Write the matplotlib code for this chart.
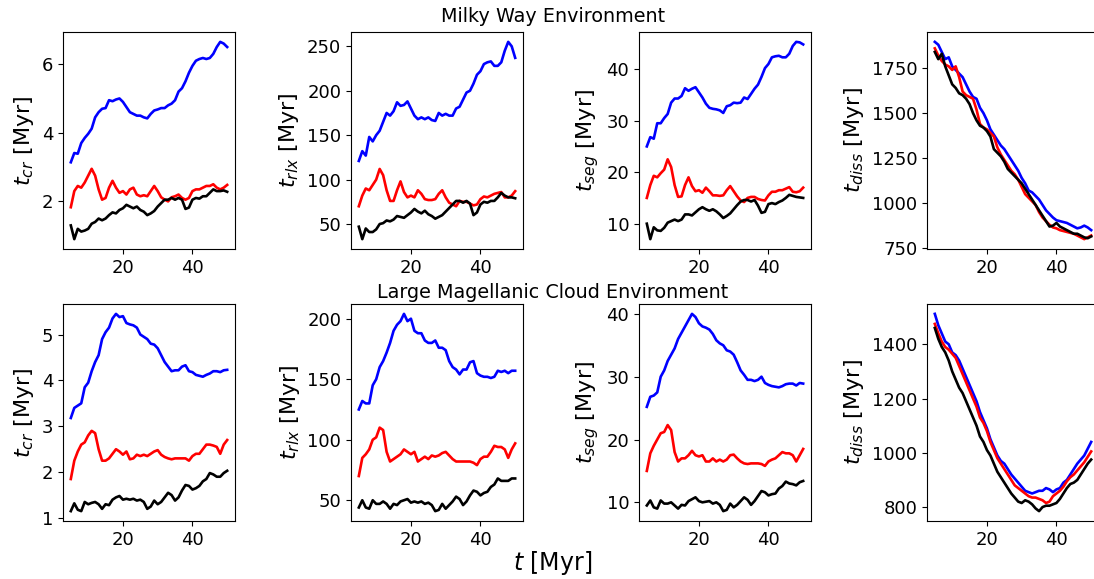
import matplotlib
matplotlib.use("Agg")
import matplotlib.pyplot as plt
import numpy as np

# cluster age grid [Myr]
t = np.arange(5, 51)

# ---- Milky Way environment ----
mw_tcr_blue = [3.14, 3.41, 3.39, 3.70, 3.85, 3.97, 4.12, 4.45, 4.60, 4.70, 4.72, 4.95, 4.92, 4.97, 5.00, 4.90,
               4.75, 4.60, 4.55, 4.50, 4.50, 4.45, 4.42, 4.55, 4.65, 4.68, 4.72, 4.72, 4.80, 4.85, 4.95, 5.20,
               5.30, 5.50, 5.75, 5.95, 6.10, 6.15, 6.18, 6.15, 6.18, 6.30, 6.50, 6.65, 6.60, 6.50]
mw_tcr_red = [1.83, 2.30, 2.45, 2.40, 2.55, 2.75, 2.95, 2.75, 2.35, 2.05, 2.10, 2.40, 2.60, 2.40, 2.25, 2.30,
              2.20, 2.35, 2.40, 2.20, 2.15, 2.18, 2.15, 2.30, 2.45, 2.30, 2.12, 2.05, 2.00, 2.12, 2.15, 2.20,
              2.10, 2.05, 2.10, 2.30, 2.35, 2.35, 2.40, 2.45, 2.45, 2.50, 2.40, 2.35, 2.40, 2.48]
mw_tcr_black = [1.30, 0.90, 1.20, 1.12, 1.15, 1.20, 1.35, 1.40, 1.50, 1.45, 1.50, 1.60, 1.68, 1.65, 1.75, 1.80,
                1.90, 1.85, 1.80, 1.85, 1.75, 1.70, 1.60, 1.65, 1.72, 1.85, 1.95, 2.05, 2.05, 2.10, 2.05, 2.10,
                2.05, 1.78, 1.82, 2.05, 2.10, 2.08, 2.15, 2.15, 2.25, 2.35, 2.30, 2.30, 2.32, 2.28]

mw_trlx_blue = [121, 132, 127, 148, 143, 150, 155, 165, 175, 172, 177, 187, 183, 184, 188, 180,
                172, 168, 170, 168, 170, 167, 166, 175, 172, 174, 172, 172, 180, 182, 190, 198,
                200, 208, 218, 222, 230, 232, 233, 228, 228, 232, 245, 255, 250, 237]
mw_trlx_red = [70, 82, 90, 88, 94, 100, 112, 105, 88, 76, 76, 88, 98, 86, 80, 82,
               80, 88, 84, 78, 77, 77, 78, 84, 88, 80, 74, 72, 70, 76, 75, 75,
               73, 71, 72, 78, 81, 80, 82, 84, 85, 86, 80, 80, 82, 87]
mw_trlx_black = [47, 33, 45, 41, 41, 44, 50, 51, 54, 53, 55, 59, 58, 57, 60, 63,
                 67, 64, 62, 65, 61, 59, 56, 58, 60, 64, 68, 72, 76, 76, 74, 76,
                 73, 60, 63, 72, 75, 74, 76, 76, 80, 85, 82, 80, 80, 79]

mw_tseg_blue = [25.0, 26.8, 26.5, 29.5, 29.5, 30.5, 31.3, 33.5, 34.3, 34.3, 34.8, 36.3, 35.8, 36.2, 36.5, 35.5,
                34.5, 33.3, 32.5, 32.3, 32.2, 32.0, 31.5, 32.8, 33.0, 33.5, 33.4, 33.5, 34.5, 34.2, 35.2, 36.2,
                37.0, 38.5, 40.2, 41.0, 42.3, 42.5, 42.6, 42.3, 42.3, 43.0, 44.5, 45.3, 45.2, 44.8]
mw_tseg_red = [15.0, 17.5, 19.3, 19.0, 19.8, 20.5, 22.5, 21.0, 17.5, 15.2, 15.3, 17.5, 19.0, 17.3, 16.3, 16.5,
               16.0, 17.0, 16.3, 15.5, 15.5, 15.4, 15.5, 16.5, 17.3, 16.3, 15.3, 14.5, 14.2, 15.0, 15.2, 15.2,
               14.8, 14.6, 14.5, 15.5, 16.2, 16.2, 16.5, 16.5, 16.8, 17.1, 16.2, 16.1, 16.3, 17.0]
mw_tseg_black = [10.0, 7.0, 9.3, 8.7, 8.6, 9.2, 10.2, 10.5, 10.8, 10.5, 10.8, 11.8, 11.8, 11.6, 12.2, 12.8,
                 13.2, 12.8, 12.5, 12.8, 12.4, 11.8, 11.1, 11.5, 12.0, 12.8, 13.6, 14.3, 14.6, 14.6, 14.3, 14.6,
                 13.5, 12.1, 12.3, 13.8, 14.0, 13.8, 14.2, 14.5, 15.0, 15.6, 15.4, 15.2, 15.1, 15.0]

mw_tdiss_blue = [1896, 1880, 1840, 1800, 1810, 1760, 1740, 1720, 1700, 1660, 1620, 1590, 1580, 1530, 1500, 1460,
                 1410, 1380, 1350, 1320, 1300, 1270, 1240, 1210, 1180, 1140, 1110, 1070, 1060, 1040, 1020, 990,
                 960, 940, 920, 905, 900, 895, 890, 880, 870, 860, 865, 875, 865, 850]
mw_tdiss_red = [1860, 1820, 1790, 1770, 1760, 1740, 1760, 1700, 1620, 1600, 1590, 1580, 1520, 1440, 1420, 1410,
                1390, 1370, 1310, 1270, 1240, 1210, 1180, 1160, 1130, 1090, 1050, 1030, 1010, 990, 950, 920,
                900, 880, 865, 860, 850, 845, 840, 835, 830, 820, 810, 800, 810, 820]
mw_tdiss_black = [1840, 1800, 1830, 1760, 1710, 1660, 1640, 1610, 1600, 1580, 1550, 1500, 1460, 1430, 1420, 1400,
                  1370, 1300, 1280, 1260, 1230, 1190, 1170, 1150, 1130, 1110, 1080, 1050, 1020, 990, 960, 930,
                  900, 870, 875, 890, 870, 860, 850, 840, 830, 830, 820, 810, 805, 815]

# ---- Large Magellanic Cloud environment ----
lmc_tcr_blue = [3.18, 3.40, 3.45, 3.50, 3.85, 3.95, 4.20, 4.40, 4.55, 4.90, 5.05, 5.15, 5.35, 5.45, 5.38, 5.40,
                5.25, 5.22, 5.20, 5.15, 5.00, 4.95, 4.90, 4.80, 4.78, 4.70, 4.55, 4.40, 4.30, 4.20, 4.22, 4.22,
                4.30, 4.33, 4.20, 4.18, 4.12, 4.10, 4.08, 4.12, 4.15, 4.20, 4.20, 4.18, 4.22, 4.23]
lmc_tcr_red = [1.85, 2.25, 2.45, 2.60, 2.65, 2.80, 2.90, 2.85, 2.50, 2.25, 2.25, 2.30, 2.40, 2.50, 2.45, 2.38,
               2.45, 2.28, 2.30, 2.38, 2.35, 2.38, 2.35, 2.40, 2.45, 2.48, 2.38, 2.33, 2.30, 2.28, 2.30, 2.30,
               2.30, 2.30, 2.25, 2.35, 2.40, 2.40, 2.50, 2.60, 2.60, 2.58, 2.55, 2.40, 2.60, 2.70]
lmc_tcr_black = [1.15, 1.32, 1.18, 1.15, 1.35, 1.30, 1.33, 1.35, 1.30, 1.20, 1.30, 1.28, 1.40, 1.45, 1.48, 1.40,
                 1.42, 1.40, 1.42, 1.38, 1.40, 1.35, 1.20, 1.25, 1.38, 1.30, 1.35, 1.45, 1.55, 1.50, 1.38, 1.45,
                 1.60, 1.72, 1.70, 1.62, 1.65, 1.70, 1.80, 1.85, 1.98, 1.95, 1.90, 1.90, 1.98, 2.03]

lmc_trlx_blue = [125, 132, 130, 130, 145, 150, 160, 165, 172, 180, 190, 195, 198, 204, 198, 200,
                 190, 188, 188, 182, 180, 180, 182, 176, 176, 174, 165, 160, 158, 154, 158, 158,
                 164, 165, 155, 153, 152, 152, 151, 152, 157, 156, 157, 155, 157, 157]
lmc_trlx_red = [70, 85, 88, 92, 100, 102, 110, 108, 90, 82, 84, 86, 88, 92, 90, 88,
                90, 82, 84, 86, 84, 87, 86, 87, 89, 90, 87, 84, 82, 82, 82, 82,
                82, 81, 79, 84, 86, 86, 90, 95, 94, 94, 92, 85, 92, 97]
lmc_trlx_black = [44, 50, 44, 43, 50, 47, 47, 49, 47, 43, 47, 46, 49, 50, 51, 48,
                  49, 48, 49, 47, 48, 46, 41, 42, 47, 43, 46, 49, 53, 51, 46, 49,
                  54, 58, 57, 54, 56, 57, 61, 63, 68, 66, 66, 66, 68, 68]

lmc_tseg_blue = [25.2, 26.8, 27.0, 27.5, 30.0, 31.0, 32.5, 33.5, 34.5, 36.0, 37.0, 38.0, 39.0, 40.0, 39.5, 38.5,
                 38.0, 37.8, 37.5, 36.8, 35.8, 35.3, 35.0, 34.2, 34.0, 33.5, 32.3, 31.0, 30.3, 29.5, 29.5, 29.3,
                 29.5, 30.0, 29.0, 28.7, 28.5, 28.4, 28.3, 28.5, 28.8, 28.9, 28.9, 28.6, 29.0, 28.9]
lmc_tseg_red = [15.0, 17.8, 19.0, 20.0, 21.0, 21.2, 22.3, 21.5, 18.0, 16.5, 17.0, 17.0, 17.5, 18.2, 17.5, 17.3,
                17.5, 16.5, 16.5, 17.0, 16.5, 16.8, 16.5, 16.8, 17.5, 17.6, 17.0, 16.5, 16.2, 16.1, 16.2, 16.2,
                16.2, 16.1, 15.8, 16.5, 16.8, 17.0, 17.5, 18.0, 17.8, 17.8, 17.5, 16.5, 17.5, 18.5]
lmc_tseg_black = [9.5, 10.3, 9.2, 9.0, 10.3, 9.8, 9.8, 10.0, 9.5, 9.0, 9.6, 9.5, 10.2, 10.5, 10.8, 10.2,
                  10.0, 10.1, 10.2, 9.8, 10.0, 9.6, 8.6, 8.8, 9.8, 9.2, 9.6, 10.2, 10.8, 10.4, 9.6, 10.2,
                  11.0, 11.8, 11.6, 11.1, 11.3, 11.4, 12.2, 12.6, 13.3, 13.0, 12.9, 12.7, 13.2, 13.4]

lmc_tdiss_blue = [1512, 1470, 1440, 1410, 1400, 1370, 1360, 1340, 1310, 1280, 1250, 1220, 1190, 1150, 1120, 1090,
                  1050, 1020, 990, 970, 960, 940, 920, 905, 890, 875, 860, 855, 850, 855, 860, 860,
                  870, 865, 855, 865, 870, 890, 900, 920, 940, 960, 975, 990, 1015, 1040]
lmc_tdiss_red = [1475, 1440, 1410, 1390, 1380, 1365, 1350, 1320, 1290, 1260, 1230, 1200, 1170, 1130, 1110, 1080,
                 1040, 1010, 980, 960, 940, 920, 900, 880, 870, 860, 850, 840, 835, 835, 830, 825,
                 815, 820, 840, 850, 860, 875, 895, 910, 920, 935, 950, 965, 985, 1005]
lmc_tdiss_black = [1460, 1420, 1390, 1370, 1340, 1300, 1270, 1240, 1220, 1190, 1160, 1130, 1100, 1060, 1040, 1010,
                   990, 960, 930, 910, 890, 870, 850, 835, 820, 815, 825, 820, 810, 795, 785, 800,
                   805, 805, 810, 815, 830, 850, 870, 885, 890, 900, 920, 940, 960, 975]

ylabels = [r"$t_{cr}$ [Myr]", r"$t_{rlx}$ [Myr]", r"$t_{seg}$ [Myr]", r"$t_{diss}$ [Myr]"]
rows = [
    [(mw_tcr_blue, mw_tcr_red, mw_tcr_black),
     (mw_trlx_blue, mw_trlx_red, mw_trlx_black),
     (mw_tseg_blue, mw_tseg_red, mw_tseg_black),
     (mw_tdiss_blue, mw_tdiss_red, mw_tdiss_black)],
    [(lmc_tcr_blue, lmc_tcr_red, lmc_tcr_black),
     (lmc_trlx_blue, lmc_trlx_red, lmc_trlx_black),
     (lmc_tseg_blue, lmc_tseg_red, lmc_tseg_black),
     (lmc_tdiss_blue, lmc_tdiss_red, lmc_tdiss_black)],
]

W, H = 1094, 579
fig = plt.figure(figsize=(W / 100, H / 100), dpi=100)

lefts = [63, 351, 639, 927]
tops = [32, 304]
aw, ah = 172, 217

for r, row in enumerate(rows):
    for c, (blue, red, black) in enumerate(row):
        ax = fig.add_axes([lefts[c] / W, 1 - (tops[r] + ah) / H, aw / W, ah / H])
        ax.plot(t, blue, color="blue", lw=1.9)
        ax.plot(t, red, color="red", lw=1.9)
        ax.plot(t, black, color="black", lw=1.9)
        ax.set_xticks([20, 40])
        ax.tick_params(labelsize=13)
        ax.set_ylabel(ylabels[c], fontsize=16)

fig.text(553 / W, 1 - 16 / H, "Milky Way Environment", ha="center", va="center", fontsize=13.8)
fig.text(553 / W, 1 - 292 / H, "Large Magellanic Cloud Environment", ha="center", va="center", fontsize=13.8)
fig.text(553 / W, 1 - 563 / H, r"$t$ [Myr]", ha="center", va="center", fontsize=17)

fig.savefig("out.png", dpi=100)
